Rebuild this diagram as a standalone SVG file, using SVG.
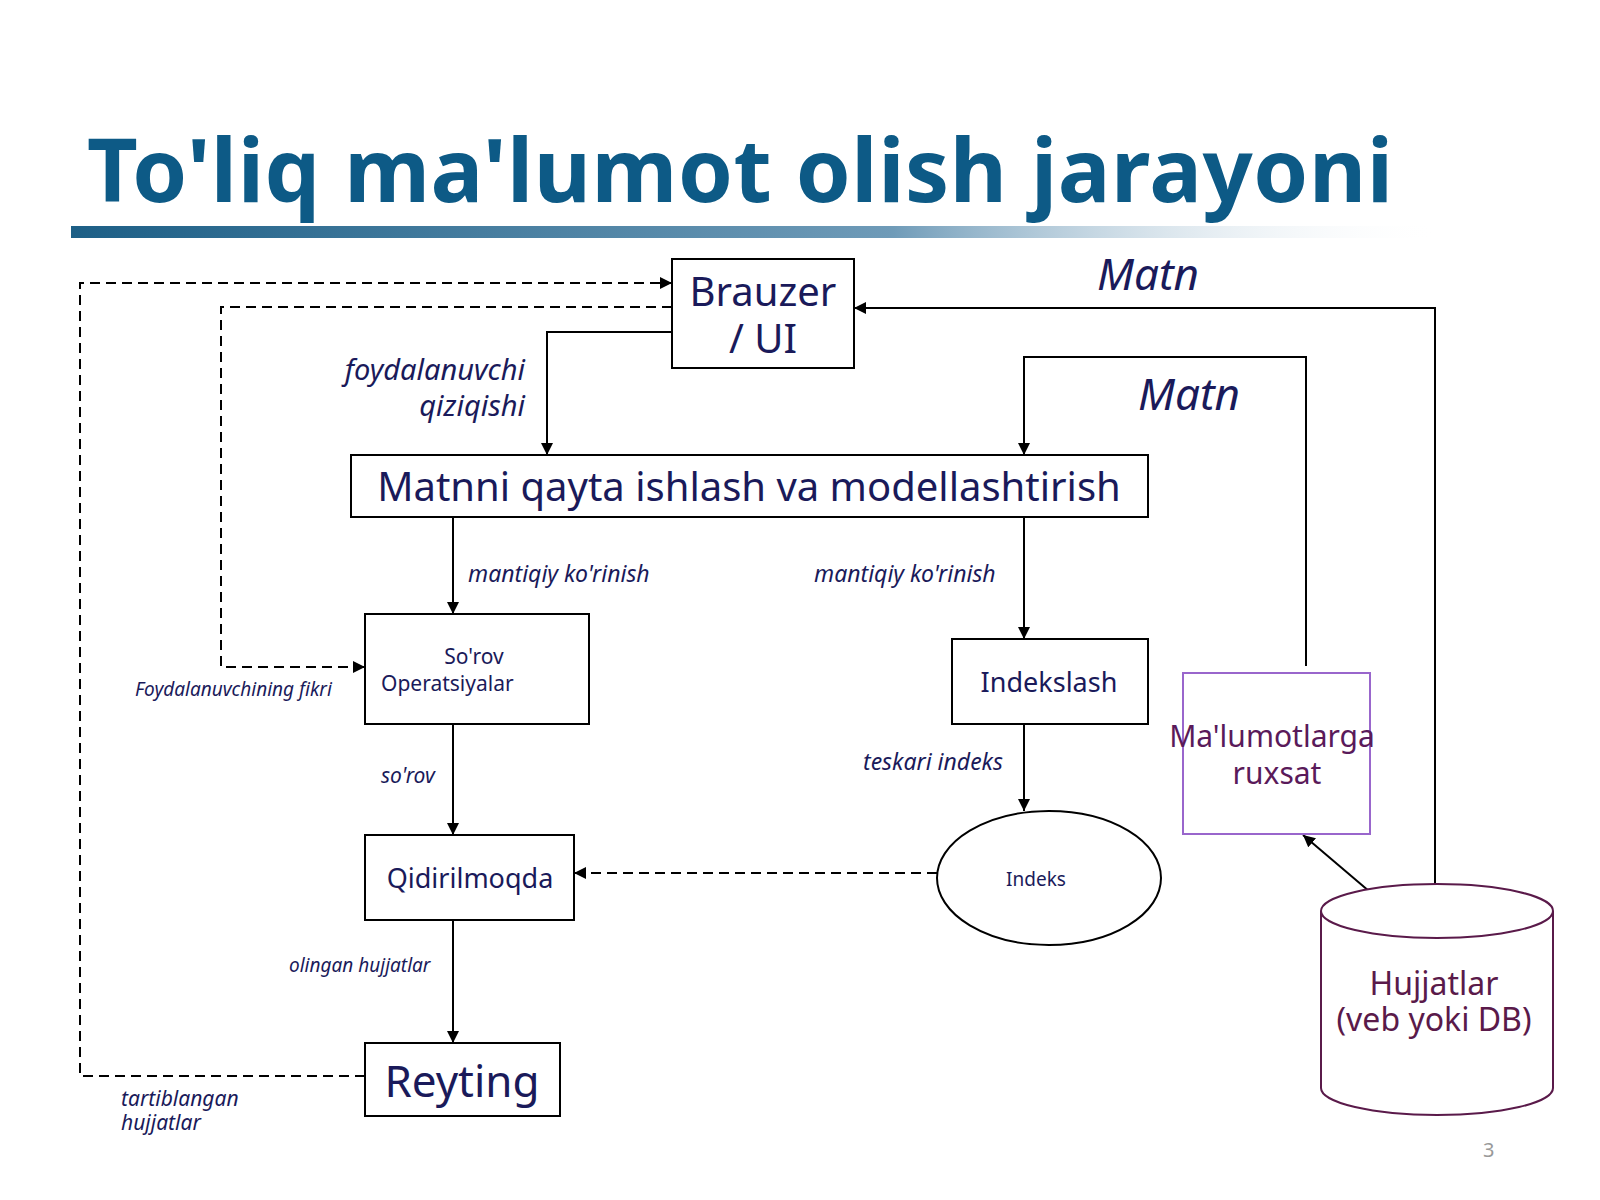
<svg xmlns="http://www.w3.org/2000/svg" width="1600" height="1200" viewBox="0 0 1600 1200">
<defs>
<linearGradient id="bar" x1="0" x2="1" y1="0" y2="0"><stop offset="0" stop-color="#1d5f86"/><stop offset="0.6" stop-color="#6f9bb8"/><stop offset="1" stop-color="#ffffff" stop-opacity="0"/></linearGradient>
<marker id="a" viewBox="0 0 10 10" refX="10" refY="5" markerWidth="6" markerHeight="6" orient="auto-start-reverse"><path d="M0,0L10,5L0,10z" fill="#000"/></marker>
<style>
.b{fill:#fff;stroke:#000;stroke-width:2}
.l{fill:none;stroke:#000;stroke-width:2;marker-end:url(#a)}
.d{stroke-dasharray:10,6}
text{font-family:"Noto Sans","Open Sans",sans-serif;fill:#1a1a5a}
.i{font-style:italic}
.m{text-anchor:middle}
</style>
</defs>
<rect width="1600" height="1200" fill="#fff"/>
<text x="87" y="202" font-size="88" font-weight="bold" style="fill:#0d5a86" textLength="1306">To'liq ma'lumot olish jarayoni</text>
<rect x="71" y="226" width="1370" height="12" fill="url(#bar)"/>
<g id="connectors">
<path class="l d" d="M365,1076H80V283H672"/>
<path class="l d" d="M672,307H221V667H365"/>
<path class="l" d="M672,332H547V455"/>
<path class="l" d="M1435,904V308H854"/>
<path class="l" d="M1306,666V357H1024V455"/>
<path class="l" d="M453,517V614"/>
<path class="l" d="M1024,517V639"/>
<path class="l" d="M453,724V835"/>
<path class="l" d="M1024,724V811"/>
<path class="l d" d="M937,873H574"/>
<path class="l" d="M453,920V1043"/>
<path class="l" d="M1383,903L1303,835"/>
</g>
<g id="brauzer"><rect class="b" x="672" y="259" width="182" height="109"/><text class="m" x="763" y="306" font-size="40">Brauzer</text><text class="m" x="763" y="353" font-size="40">/ UI</text></g>
<g id="matnni"><rect class="b" x="351" y="455" width="797" height="62"/><text class="m" x="749" y="501" font-size="40">Matnni qayta ishlash va modellashtirish</text></g>
<g id="sorov"><rect class="b" x="365" y="614" width="224" height="110"/><text class="m" x="474" y="664" font-size="21">So'rov</text><text x="381" y="691" font-size="21">Operatsiyalar</text></g>
<g id="indekslash"><rect class="b" x="952" y="639" width="196" height="85"/><text class="m" x="1049" y="692" font-size="27">Indekslash</text></g>
<g id="ruxsat"><rect x="1183" y="673" width="187" height="161" fill="#fff" stroke="#9966cc" stroke-width="2"/><text class="m" x="1272" y="747" font-size="30" style="fill:#5a1a5a">Ma'lumotlarga</text><text class="m" x="1277" y="784" font-size="30" style="fill:#5a1a5a">ruxsat</text></g>
<g id="qidir"><rect class="b" x="365" y="835" width="209" height="85"/><text class="m" x="470" y="888" font-size="27">Qidirilmoqda</text></g>
<g id="reyting"><rect class="b" x="365" y="1043" width="195" height="73"/><text class="m" x="462" y="1097" font-size="44">Reyting</text></g>
<g id="indeks"><ellipse class="b" cx="1049" cy="878" rx="112" ry="67"/><text class="m" x="1036" y="886" font-size="19">Indeks</text></g>
<g id="hujjatlar"><path d="M1321,911V1088A116,27 0 0 0 1553,1088V911" fill="#fff" stroke="#5a1a4a" stroke-width="2"/><ellipse cx="1437" cy="911" rx="116" ry="27" fill="#fff" stroke="#5a1a4a" stroke-width="2"/><text class="m" x="1434" y="995" font-size="32" style="fill:#5a1a4a">Hujjatlar</text><text class="m" x="1434" y="1031" font-size="32" style="fill:#5a1a4a">(veb yoki DB)</text></g>
<g id="labels">
<text class="i" x="1097" y="290" font-size="44">Matn</text>
<text class="i" x="1138" y="410" font-size="44">Matn</text>
<text class="i" x="525" y="380" font-size="29" text-anchor="end">foydalanuvchi</text>
<text class="i" x="525" y="416" font-size="29" text-anchor="end">qiziqishi</text>
<text class="i" x="468" y="582" font-size="23">mantiqiy ko'rinish</text>
<text class="i" x="814" y="582" font-size="23">mantiqiy ko'rinish</text>
<text class="i" x="135" y="696" font-size="19">Foydalanuvchining fikri</text>
<text class="i" x="381" y="783" font-size="21">so'rov</text>
<text class="i" x="863" y="770" font-size="23">teskari indeks</text>
<text class="i" x="289" y="972" font-size="19">olingan hujjatlar</text>
<text class="i" x="121" y="1106" font-size="21">tartiblangan</text>
<text class="i" x="121" y="1130" font-size="21">hujjatlar</text>
<text x="1483" y="1157" font-size="20" style="fill:#999">3</text>
</g>
</svg>
